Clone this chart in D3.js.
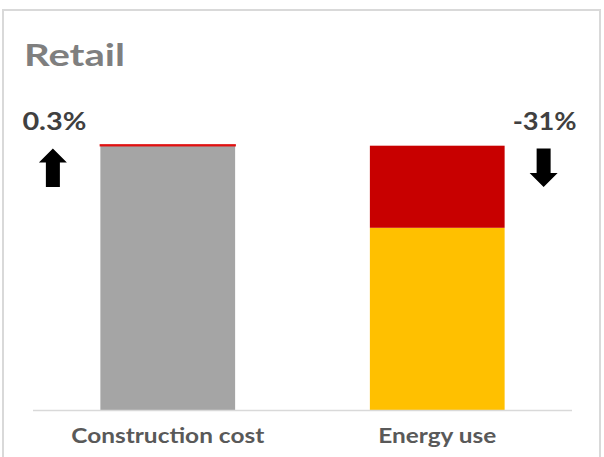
<!DOCTYPE html>
<html>
<head>
<meta charset="utf-8">
<script src="https://cdn.jsdelivr.net/npm/d3@7"></script>
<style>
  html, body { margin: 0; padding: 0; background: #ffffff; }
  svg { display: block; }
</style>
</head>
<body>
<svg id="chart" width="604" height="457"></svg>
<script>
// ---- data ----
const title = "Retail";
const categories = ["Construction cost", "Energy use"];
const baseValues = [100, 69];          // bottom segment
const changeValues = [0.3, 31];        // red segment on top
const changeLabels = ["0.3%", "-31%"];
const changeDirections = ["up", "down"];
const baseColors = ["#a5a5a5", "#ffc000"];
const changeColor = "#c80000";

const svg = d3.select("#chart");
const W = 604, H = 457;

// frame
svg.append("rect")
  .attr("x", 3).attr("y", 10).attr("width", 597).attr("height", 460)
  .attr("fill", "#fff").attr("stroke", "#d9d9d9").attr("stroke-width", 2);

// scales
const x = d3.scaleBand().domain(categories).range([33, 572]).paddingInner(0.5).paddingOuter(0.25);
const y = d3.scaleLinear().domain([0, 100]).range([410.5, 145.7]);

const rows = categories.map((c, i) => ({
  cat: c, base: baseValues[i], change: changeValues[i],
  label: changeLabels[i], dir: changeDirections[i], color: baseColors[i]
}));

// base segments
svg.append("g").selectAll("rect").data(rows).join("rect")
  .attr("x", d => x(d.cat))
  .attr("width", x.bandwidth())
  .attr("y", d => y(d.base))
  .attr("height", d => y(0) - y(d.base))
  .attr("fill", d => d.color);

// change segments (stacked on top)
svg.append("g").selectAll("rect").data(rows).join("rect")
  .attr("x", d => x(d.cat))
  .attr("width", x.bandwidth())
  .attr("y", d => y(d.base + d.change))
  .attr("height", d => y(d.base) - y(d.base + d.change))
  .attr("fill", changeColor)
  .attr("stroke", d => (y(d.base) - y(d.base + d.change)) < 3 ? "#e01010" : "none")
  .attr("stroke-width", 1.5);

// axis baseline
svg.append("line")
  .attr("x1", x.range()[0]).attr("x2", x.range()[1])
  .attr("y1", y(0)).attr("y2", y(0))
  .attr("stroke", "#d9d9d9").attr("stroke-width", 1.5);

// helper for stretched text
function stretchedText(g, str, xLeft, baseline, size, width, fill, weight) {
  return g.append("text")
    .attr("x", xLeft).attr("y", baseline)
    .attr("font-family", "Lato, 'Open Sans', sans-serif")
    .attr("font-size", size)
    .attr("font-weight", weight || "bold")
    .attr("fill", fill)
    .attr("textLength", width)
    .attr("lengthAdjust", "spacingAndGlyphs")
    .text(str);
}

// title
stretchedText(svg, title, 24, 66, 30, 101, "#7f7f7f");

// category labels
const catWidths = { "Construction cost": 193, "Energy use": 118 };
rows.forEach(d => {
  const cx = x(d.cat) + x.bandwidth() / 2;
  const w = catWidths[d.cat];
  stretchedText(svg, d.cat, cx - w / 2, 443, 20, w, "#595959");
});

// change labels and arrows
rows.forEach((d, i) => {
  const left = x(d.cat), right = x(d.cat) + x.bandwidth();
  const labelW = 64;
  const lx = d.dir === "up" ? left - 78 : right + 8;
  stretchedText(svg, d.label, lx, 130, 24, labelW, "#404040");

  // block arrow
  const cx = d.dir === "up" ? left - 47.5 : right + 39;
  const top = 148.5, bottom = 187;
  const hw = 14, sw = 7, hh = 14;
  let pts;
  if (d.dir === "up") {
    pts = [[cx, top], [cx + hw, top + hh], [cx + sw, top + hh], [cx + sw, bottom],
           [cx - sw, bottom], [cx - sw, top + hh], [cx - hw, top + hh]];
  } else {
    pts = [[cx, bottom], [cx + hw, bottom - hh], [cx + sw, bottom - hh], [cx + sw, top],
           [cx - sw, top], [cx - sw, bottom - hh], [cx - hw, bottom - hh]];
  }
  svg.append("path")
    .attr("d", d3.line()(pts) + "Z")
    .attr("fill", "#000");
});
</script>
</body>
</html>
